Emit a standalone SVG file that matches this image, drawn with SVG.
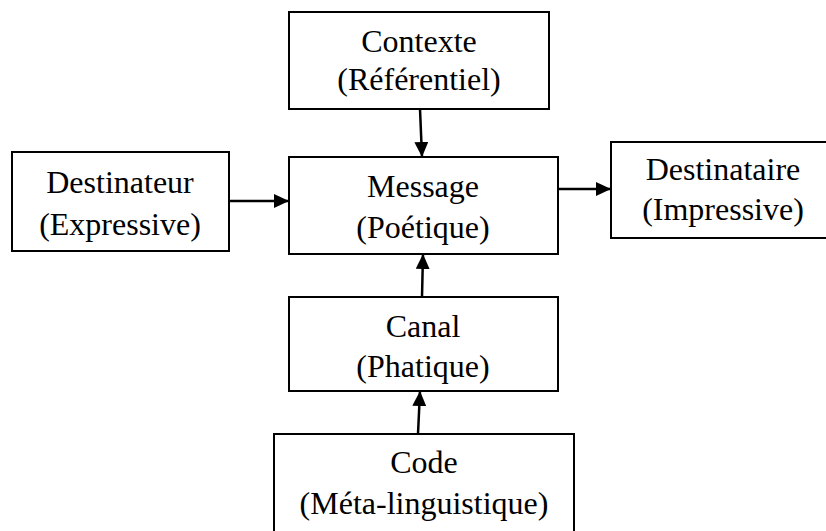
<svg xmlns="http://www.w3.org/2000/svg" width="826" height="531" viewBox="0 0 826 531">
<style>
.box{fill:#fff;stroke:#000;stroke-width:2}
.t{font-family:"Liberation Serif","Times New Roman",serif;font-size:32px;fill:#000;text-anchor:middle}
.c{stroke:#000;stroke-width:2.5;fill:none;marker-end:url(#ah)}
</style>
<defs>
<marker id="ah" markerWidth="15" markerHeight="14" refX="15" refY="7" orient="auto" markerUnits="userSpaceOnUse">
<polygon points="0,0 15,7 0,14" fill="#000"/>
</marker>
</defs>
<rect width="826" height="531" fill="#fff"/>
<g id="contexte"><rect class="box" x="289" y="12" width="260" height="97"/><text class="t" x="419" y="52">Contexte</text><text class="t" x="419" y="90">(Référentiel)</text></g>
<g id="destinateur"><rect class="box" x="12" y="152" width="217" height="99"/><text class="t" x="120" y="193">Destinateur</text><text class="t" x="120" y="235">(Expressive)</text></g>
<g id="message"><rect class="box" x="289" y="157" width="269" height="97"/><text class="t" x="423" y="197">Message</text><text class="t" x="423" y="238">(Poétique)</text></g>
<g id="destinataire"><rect class="box" x="611" y="142" width="216" height="96"/><text class="t" x="723" y="180">Destinataire</text><text class="t" x="723" y="220">(Impressive)</text></g>
<g id="canal"><rect class="box" x="289" y="297" width="269" height="94"/><text class="t" x="423" y="337">Canal</text><text class="t" x="423" y="377">(Phatique)</text></g>
<g id="code"><rect class="box" x="274" y="434" width="300" height="110"/><text class="t" x="424" y="473">Code</text><text class="t" x="424" y="514">(Méta-linguistique)</text></g>
<g id="connectors">
<line class="c" x1="420" y1="109" x2="422" y2="157"/>
<line class="c" x1="229" y1="201" x2="289" y2="201"/>
<line class="c" x1="558" y1="189" x2="611" y2="189"/>
<line class="c" x1="422" y1="297" x2="423" y2="254"/>
<line class="c" x1="418" y1="434" x2="420" y2="391"/>
</g>
</svg>
